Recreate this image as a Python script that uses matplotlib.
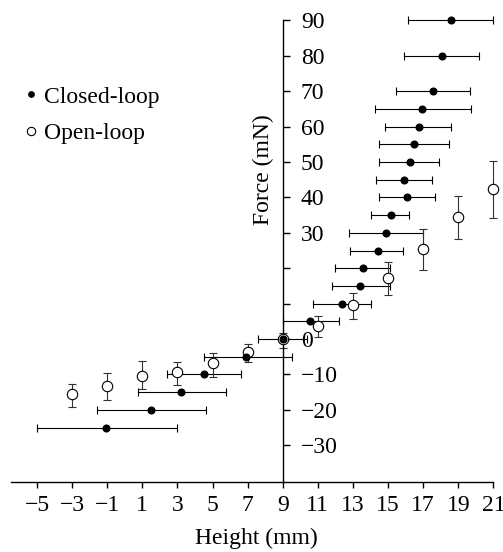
import matplotlib
matplotlib.use("Agg")
import matplotlib.pyplot as plt

# Closed-loop data: height (mm), force (mN), left/right height error
closed_x = [18.6, 18.1, 17.55, 16.95, 16.75, 16.5, 16.25, 15.9, 16.1, 15.15, 14.9,
            14.4, 13.6, 13.4, 12.4, 10.55, 9.0, 6.9, 4.5, 3.2, 1.5, -1.05]
closed_y = [90, 80, 70, 65, 60, 55, 50, 45, 40, 35, 30,
            25, 20, 15, 10, 5, 0, -5, -10, -15, -20, -25]
closed_xlo = [2.45, 2.2, 2.1, 2.7, 1.9, 2.0, 1.75, 1.6, 1.6, 1.15, 2.1,
              1.55, 1.6, 1.6, 1.65, 1.55, 1.4, 2.4, 2.1, 2.45, 3.1, 3.95]
closed_xhi = [2.4, 2.1, 2.1, 2.75, 1.85, 1.95, 1.65, 1.6, 1.6, 1.05, 2.1,
              1.45, 1.5, 1.7, 1.6, 1.65, 1.4, 2.6, 2.1, 2.55, 3.15, 4.0]

# Open-loop data: height (mm), force (mN), lower/upper force error
open_x = [-3, -1, 1, 3, 5, 7, 9, 11, 13, 15, 17, 19, 21]
open_y = [-15.5, -13.3, -10.4, -9.3, -6.9, -3.6, 0, 3.7, 9.7, 17.3, 25.3, 34.4, 42.5]
open_ylo = [3.6, 3.9, 3.8, 3.6, 3.7, 2.8, 2.5, 3.1, 4.0, 4.8, 5.8, 6.2, 8.4]
open_yhi = [2.9, 3.6, 4.2, 2.8, 3.0, 2.1, 1.8, 2.8, 3.4, 4.5, 5.9, 6.1, 7.8]

yticks = [90, 80, 70, 60, 50, 40, 30, 20, 10, 0, -10, -20, -30]
ytick_labels = ["90", "80", "70", "60", "50", "40", "30", "", "", "0", "\u221210", "\u221220", "\u221230"]
xticks = list(range(-5, 22, 2))
xtick_labels = [str(t).replace("-", "\u2212") for t in xticks]

plt.rcParams['font.family'] = ['Liberation Serif', 'DejaVu Serif']
plt.rcParams['font.size'] = 17

fig = plt.figure(figsize=(5.03, 5.52), dpi=100)
ax = fig.add_axes([0.0213, 0.126, 0.970, 0.850])

ax.errorbar(closed_x, closed_y, xerr=[closed_xlo, closed_xhi], fmt='none',
            ecolor='black', elinewidth=0.8, capsize=3, capthick=0.8, zorder=2)
ax.errorbar(open_x, open_y, yerr=[open_ylo, open_yhi], fmt='none',
            ecolor='#333333', elinewidth=0.8, capsize=3, capthick=0.8, zorder=2)
ax.plot(closed_x, closed_y, 'o', color='black', markersize=4.8, label='Closed-loop', zorder=4)
ax.plot(open_x, open_y, 'o', markerfacecolor='white', markeredgecolor='black',
        markeredgewidth=0.8, markersize=7.5, label='Open-loop', zorder=3)

ax.set_xlim(-6.5, 21.3)
ax.set_ylim(-40.5, 92)

for s in ['top', 'left']:
    ax.spines[s].set_visible(False)
ax.spines['right'].set_position(('data', 9))
ax.spines['right'].set_bounds(-40.5, 90)
ax.spines['bottom'].set_bounds(-6.5, 21)
ax.spines['right'].set_linewidth(1)
ax.spines['bottom'].set_linewidth(1)

ax.yaxis.tick_right()
ax.set_yticks(yticks)
ax.set_yticklabels(ytick_labels)
ax.set_xticks(xticks)
ax.set_xticklabels(xtick_labels)
ax.tick_params(axis='y', direction='out', length=5, pad=8, width=1)
ax.tick_params(axis='x', direction='out', length=4, pad=5, width=1)

ax.text(7.88, 47.7, "Force (mN)", rotation=90, ha='center', va='center')
fig.text(256.7 / 503, 1 - 538 / 552, "Height (mm)", ha='center', va='center')

ax.legend(loc='upper left', bbox_to_anchor=(25 / 503, 1 - 86 / 552),
          bbox_transform=fig.transFigure, frameon=False, handlelength=0.5,
          handletextpad=0.3, labelspacing=0.65, borderpad=0, borderaxespad=0,
          markerscale=0.8)

fig.savefig("out.png", dpi=100)
